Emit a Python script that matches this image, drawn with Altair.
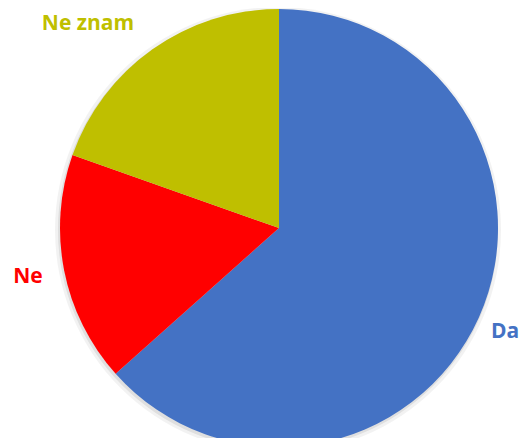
import altair as alt
import pandas as pd

categories = ["Da", "Ne", "Ne znam"]
values = [63.4, 17.0, 19.6]
colors = ["#4472C4", "#FF0000", "#BFBF00"]

df = pd.DataFrame({"cat": categories, "val": values, "ord": [0, 1, 2]})

CX, CY, R = 271, 220, 219

shadow_df = pd.DataFrame({"s": [0]})
shadow = alt.Chart(shadow_df).mark_arc(theta=0, theta2=6.2832, color="#000000").encode(
    x=alt.value(CX - 1),
    y=alt.value(CY + 2),
    radius=alt.value(R + 1),
    opacity=alt.value(0.08),
)
shadow2 = alt.Chart(shadow_df).mark_arc(theta=0, theta2=6.2832, color="#000000").encode(
    x=alt.value(CX - 1),
    y=alt.value(CY + 2),
    radius=alt.value(R + 4),
    opacity=alt.value(0.05),
)

pie = alt.Chart(df).mark_arc(stroke=None).encode(
    theta=alt.Theta("val:Q", stack=True),
    order=alt.Order("ord:Q"),
    color=alt.Color("cat:N", scale=alt.Scale(domain=categories, range=colors), legend=None),
    x=alt.value(CX),
    y=alt.value(CY),
    radius=alt.value(R),
)

label_df = pd.DataFrame({
    "cat": categories,
    "lx": [497, 20, 80],
    "ly": [324, 269, 16],
})
labels = alt.Chart(label_df).mark_text(
    font="Open Sans", fontWeight="bold", fontSize=21, align="center", baseline="middle"
).encode(
    text="cat:N",
    x=alt.X("lx:Q", scale=alt.Scale(domain=[0, 512], range=[0, 512]), axis=None),
    y=alt.Y("ly:Q", scale=alt.Scale(domain=[0, 430], range=[0, 430]), axis=None),
    color=alt.Color("cat:N", scale=alt.Scale(domain=categories, range=colors), legend=None),
)

chart = alt.layer(shadow2, shadow, pie, labels).properties(
    width=512, height=430, autosize=alt.AutoSizeParams(type="none"), padding=0
).configure_view(stroke=None)

chart.save("out.html", embed_options={"renderer": "svg", "actions": False})
